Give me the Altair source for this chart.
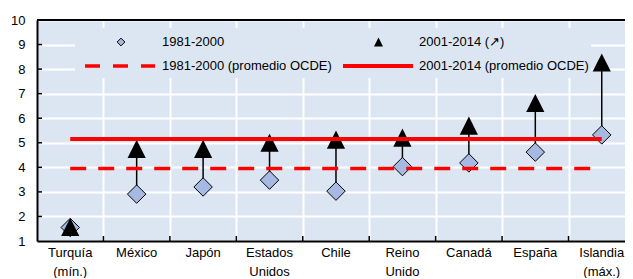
import altair as alt
import pandas as pd

# ---- data ----
categories = ["Turquía\n(mín.)", "México", "Japón", "Estados\nUnidos", "Chile",
              "Reino\nUnido", "Canadá", "España", "Islandia\n(máx.)"]
v_1981_2000 = [1.55, 2.91, 3.20, 3.48, 3.03, 4.03, 4.18, 4.62, 5.32]
v_2001_2014 = [1.57, 4.75, 4.75, 5.00, 5.13, 5.21, 5.70, 6.62, 8.27]
oecd_1981_2000 = 3.95
oecd_2001_2014 = 5.15
y_ticks = [1, 2, 3, 4, 5, 6, 7, 8, 9, 10]
leg_labels = ["1981-2000", "2001-2014 (↗)", "1981-2000 (promedio OCDE)", "2001-2014 (promedio OCDE)"]

df = pd.DataFrame({
    "idx": list(range(len(categories))),
    "cat": categories,
    "a": v_1981_2000,
    "b": v_2001_2014,
})
one = pd.DataFrame({"k": [0]})
oecd = pd.DataFrame({"x0": [0], "x1": [len(categories) - 1],
                     "y1": [oecd_1981_2000], "y2": [oecd_2001_2014]})
gridx = pd.DataFrame({"g": [i + 0.5 for i in range(len(categories) - 1)]})
gridy = pd.DataFrame({"t": y_ticks[1:-1]})

W, H = 588, 221
BG = "#DCE6F2"
FILL = "#A6B9E3"
RED = "#FF0000"
FONT = "Liberation Sans"

xs = alt.Scale(domain=[-0.5, 8.35], nice=False, zero=False)
ys = alt.Scale(domain=[1, 10], nice=False, zero=False)
XAX = alt.Axis(values=[i + 0.5 for i in range(8)], grid=True, gridColor="white", gridWidth=2,
               labels=False, ticks=False, domainColor="black", domainWidth=2, title=None)
YAX = alt.Axis(values=y_ticks, grid=True, gridColor="white", gridWidth=2, ticks=False,
               domainColor="black", domainWidth=2, labelPadding=12, labelFontSize=13,
               labelColor="black", labelFont=FONT, title=None)

def X(f):
    return alt.X(f, type="quantitative", scale=xs, axis=XAX)

def Y(f):
    return alt.Y(f, type="quantitative", scale=ys, axis=YAX)

base_axes = alt.Chart(df).mark_point(opacity=0).encode(x=X("idx"), y=Y("a"))

legend_box = alt.Chart(one).mark_rect(fill=BG).encode(
    x=alt.value(38), x2=alt.value(554), y=alt.value(8), y2=alt.value(58))

left_ticks = alt.Chart(gridy).mark_rule(color="black", strokeWidth=1.5).encode(
    y=Y("t"), x=alt.value(0), x2=alt.value(5))
bottom_ticks = alt.Chart(gridx).mark_rule(color="black", strokeWidth=1.5).encode(
    x=X("g"), y=alt.value(H), y2=alt.value(H - 5))

stems = alt.Chart(df).mark_rule(color="black", strokeWidth=1.5).encode(
    x=X("idx"), y=Y("a"), y2="b")
diamonds = alt.Chart(df).mark_point(shape="diamond", filled=True, fill=FILL, stroke="black",
                                    strokeWidth=1, size=340, opacity=1).encode(x=X("idx"), y=Y("a"))
tri_path = "M0,-1L1,1L-1,1Z"
triangles = alt.Chart(df).mark_point(shape=tri_path, filled=True, color="black", size=330,
                                     opacity=1).encode(x=X("idx"), y=Y("b"))

dash_line = alt.Chart(oecd).mark_rule(color=RED, strokeWidth=3.5, strokeDash=[16, 12]).encode(
    x=X("x0"), x2="x1", y=Y("y1"))
solid_line = alt.Chart(oecd).mark_rule(color=RED, strokeWidth=4).encode(
    x=X("x0"), x2="x1", y=Y("y2"))

top_border = alt.Chart(one).mark_rule(color="black", strokeWidth=2).encode(
    x=alt.value(0), x2=alt.value(W + 10), y=alt.value(0))

cat_labels = alt.Chart(df).mark_text(font=FONT, fontSize=13, baseline="middle", lineBreak="\n",
                                     lineHeight=19, color="black").encode(
    x=X("idx"), y=alt.value(H + 12), text="cat:N")

# legend (manual, inside plot)
leg_diamond = alt.Chart(one).mark_point(shape="diamond", filled=True, fill=FILL, stroke="black",
                                        strokeWidth=1, size=60, opacity=1).encode(
    x=alt.value(84), y=alt.value(22))
leg_tri = alt.Chart(one).mark_point(shape=tri_path, filled=True, color="black", size=80,
                                    opacity=1).encode(x=alt.value(341.5), y=alt.value(22))
leg_dash = alt.Chart(one).mark_rule(color=RED, strokeWidth=3.5, strokeDash=[15, 13]).encode(
    x=alt.value(48), x2=alt.value(118), y=alt.value(46))
leg_solid = alt.Chart(one).mark_rule(color=RED, strokeWidth=4).encode(
    x=alt.value(306), x2=alt.value(376), y=alt.value(46))

def leg_text(txt, x, y):
    return alt.Chart(one).mark_text(font=FONT, fontSize=13, align="left", baseline="middle",
                                    color="black", text=txt).encode(x=alt.value(x), y=alt.value(y))

legend_layers = [leg_diamond, leg_tri, leg_dash, leg_solid,
                 leg_text(leg_labels[0], 125, 22), leg_text(leg_labels[1], 382, 22),
                 leg_text(leg_labels[2], 125, 46), leg_text(leg_labels[3], 382, 46)]

chart = alt.layer(
    base_axes, legend_box, left_ticks, bottom_ticks, stems, diamonds, triangles,
    dash_line, solid_line, top_border, cat_labels, *legend_layers
).properties(
    width=W, height=H,
    autosize=alt.AutoSizeParams(type="none"),
    padding={"left": 29, "top": 12, "right": 0, "bottom": 37},
).configure_view(fill=BG, stroke=None)

chart.save("out.html", embed_options={"renderer": "svg", "actions": False})
